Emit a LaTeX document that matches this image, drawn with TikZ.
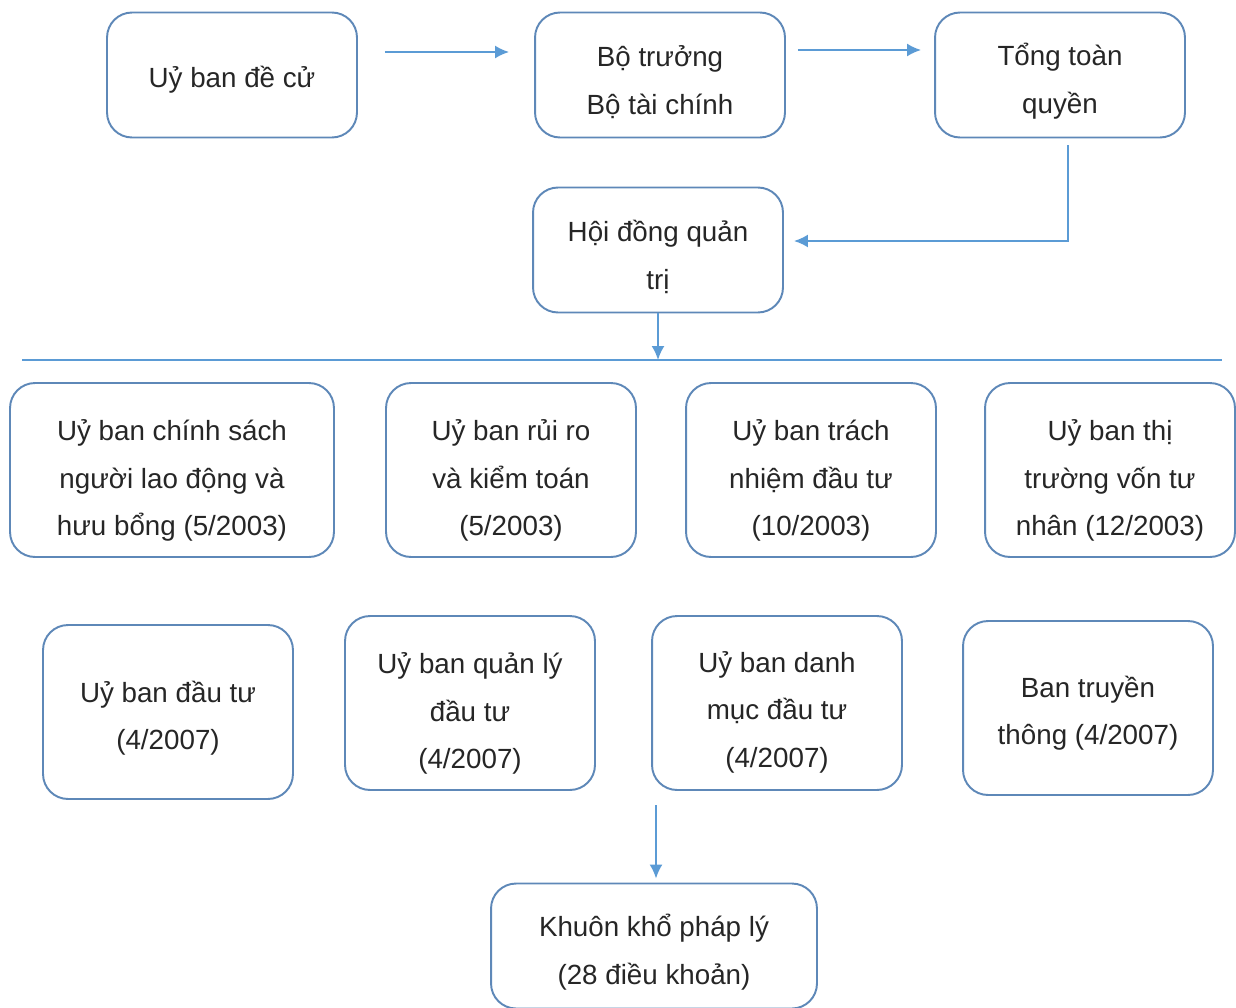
\documentclass[tikz,border=0pt]{standalone}
\usepackage{fontspec}
\setmainfont{Liberation Sans}
\usepackage{xcolor}
\usetikzlibrary{arrows.meta,positioning,calc}

\definecolor{boxblue}{HTML}{5E88B8}
\definecolor{arrowblue}{HTML}{5B9BD5}
\definecolor{textgray}{HTML}{262626}

\begin{document}
\begin{tikzpicture}[
    x=0.02cm, y=-0.02cm,
    unit/.style={rectangle, draw=boxblue, line width=1.1pt, rounded corners=0.5cm, fill=white,
        minimum width=5cm, minimum height=2.5cm, align=center, text=textgray,
        font=\fontsize{15.8}{27}\selectfont, text height=47pt},
    tall/.style={unit, minimum height=3.48cm, text height=78pt},
    arrow/.style={-{Latex[length=0.28cm,width=0.26cm]}, line width=1.1pt, draw=arrowblue}
]
    \useasboundingbox (0,0) rectangle (1236,1007);

    % Top row
    \node[unit, text height=17.8pt] (uyban) at (232,75) {Uỷ ban đề cử};
    \node[unit] (botruong) at (660,75) {Bộ trưởng\\Bộ tài chính};
    \node[unit] (tongtoan) at (1060,75) {Tổng toàn\\quyền};
    \node[unit] (hoidong) at (658,250) {Hội đồng quản\\trị};

    % Separator
    \coordinate (lineL) at (22,360);
    \coordinate (lineR) at (1222,360);
    \draw[arrowblue, line width=0.8pt] (lineL) -- (lineR);

    % Committees (2003)
    \node[tall, minimum width=6.48cm] (chinhsach) at (172,470) {Uỷ ban chính sách\\người lao động và\\hưu bổng (5/2003)};
    \node[tall] (ruiro) at (511,470) {Uỷ ban rủi ro\\và kiểm toán\\(5/2003)};
    \node[tall] (trachnhiem) at (811,470) {Uỷ ban trách\\nhiệm đầu tư\\(10/2003)};
    \node[tall] (thitruong) at (1110,470) {Uỷ ban thị\\trường vốn tư\\nhân (12/2003)};

    % Committees (2007)
    \node[tall, text height=46pt] (dautu) at (168,712) {Uỷ ban đầu tư\\(4/2007)};
    \node[tall] (quanly) at (470,703) {Uỷ ban quản lý\\đầu tư\\(4/2007)};
    \node[tall, text height=76.5pt] (danhmuc) at (777,703) {Uỷ ban danh\\mục đầu tư\\(4/2007)};
    \node[tall, text height=45pt] (truyenthong) at (1088,708) {Ban truyền\\thông (4/2007)};

    % Legal framework
    \node[unit, minimum width=6.52cm] (khuonkho) at (654,946) {Khuôn khổ pháp lý\\(28 điều khoản)};
    \coordinate (khuonkhoin) at (656,805);

    % Arrows
    \draw[arrow, shorten <=0.54cm, shorten >=0.5cm] ([yshift=0.46cm]uyban.east) -- ([yshift=0.46cm]botruong.west);
    \draw[arrow, shorten <=0.24cm, shorten >=0.26cm] ([yshift=0.5cm]botruong.east) -- ([yshift=0.5cm]tongtoan.west);
    \draw[arrow, shorten <=0.14cm, shorten >=0.2cm] ([xshift=0.16cm]tongtoan.south) |- ([yshift=0.18cm]hoidong.east);
    \draw[arrow] (hoidong.south) -- (hoidong.south |- lineL);
    \draw[arrow, shorten >=0.08cm] (khuonkhoin) -- (khuonkhoin |- khuonkho.north);
\end{tikzpicture}
\end{document}
